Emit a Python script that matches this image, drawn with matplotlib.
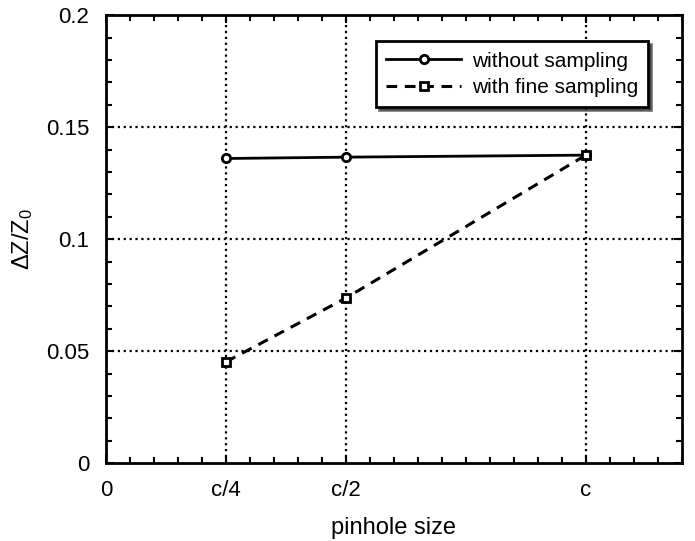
import matplotlib
matplotlib.use("Agg")
import matplotlib.pyplot as plt
from matplotlib.ticker import MultipleLocator

plt.rcParams['font.family'] = ['Liberation Sans', 'DejaVu Sans']
plt.rcParams['mathtext.fontset'] = 'custom'
plt.rcParams['mathtext.rm'] = 'Liberation Sans'

x_pos = [0.25, 0.5, 1.0]
without_sampling = [0.136, 0.1366, 0.1375]
fine_sampling = [0.0452, 0.0737, 0.1375]
xtick_vals = [0, 0.25, 0.5, 1.0]
xtick_labels = ['0', 'c/4', 'c/2', 'c']
ytick_vals = [0, 0.05, 0.1, 0.15, 0.2]
ytick_labels = ['0', '0.05', '0.1', '0.15', '0.2']

fig = plt.figure(figsize=(6.95, 5.41), dpi=100)
ax = fig.add_axes([0.1525, 0.144, 0.8285, 0.828])

ax.plot(x_pos, without_sampling, '-', color='black', lw=2, marker='o',
        ms=6, mfc='white', mec='black', mew=2, label='without sampling')
ax.plot(x_pos, fine_sampling, '--', color='black', lw=2.2, marker='s',
        ms=6, mfc='white', mec='black', mew=2, dashes=(3.5, 2.5),
        label='with fine sampling')

ax.set_xlim(0, 1.2)
ax.set_ylim(0, 0.2)

ax.set_xticks(xtick_vals)
ax.set_xticklabels(xtick_labels)
ax.set_yticks(ytick_vals)
ax.set_yticklabels(ytick_labels)
ax.xaxis.set_minor_locator(MultipleLocator(0.05))
ax.yaxis.set_minor_locator(MultipleLocator(0.01))
ax.tick_params(which='both', direction='in', top=True, right=True,
               width=1.5, labelsize=16, color='black')
ax.tick_params(which='major', length=6, pad=12)
ax.tick_params(which='minor', length=4)

for v in [0.25, 0.5, 1.0]:
    ax.axvline(v, color='black', ls=':', lw=1.6, zorder=0)
for v in [0.05, 0.1, 0.15]:
    ax.axhline(v, color='black', ls=':', lw=1.6, zorder=0)

for s in ax.spines.values():
    s.set_linewidth(2)

ax.set_xlabel('pinhole size', fontsize=17, labelpad=12)
ax.set_ylabel(r'$\mathregular{\Delta Z/Z_0}$', fontsize=17, labelpad=8)

leg = ax.legend(loc='upper right', bbox_to_anchor=(0.96, 0.965),
                fancybox=False, shadow={'color': 'black'}, fontsize=15,
                edgecolor='black', framealpha=1, borderpad=0.5,
                handlelength=3.6, labelspacing=0.35, handletextpad=0.5)
leg.get_frame().set_linewidth(2)

fig.savefig('out.png', dpi=100)
